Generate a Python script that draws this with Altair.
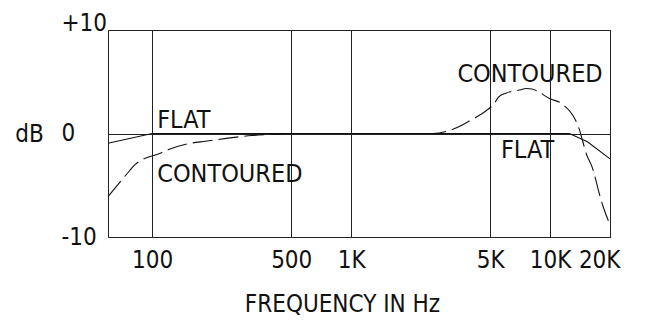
import altair as alt
import pandas as pd

# ---- data ----
flat_freq = [60, 100, 1000, 10000, 12500, 15400, 20000]
flat_db = [-0.95, 0.0, 0.0, 0.0, 0.0, -0.8, -2.45]

cont_freq = [60, 77, 82, 110, 121, 155, 185, 316, 450, 500, 1000, 2570,
             3600, 4000, 4770, 5240, 5490, 6000, 7000, 7600, 8100, 10000,
             11500, 13900, 15300, 16300, 17900, 18500, 20000]
cont_db = [-6.1, -3.6, -3.0, -1.9, -1.55, -0.95, -0.75, -0.2, -0.05, 0.0, 0.0, 0.0,
           0.8, 1.3, 2.2, 2.9, 3.5, 3.9, 4.2, 4.35, 4.3, 3.35,
           2.85, 0.6, -2.1, -3.3, -6.2, -7.1, -8.8]

x_ticks = [100, 500, 1000, 5000, 10000, 20000]
x_tick_labels = ["100", "500", "1K", "5K", "10K", "20K"]
y_ticks = [-10, 0, 10]

ann_text = ["FLAT", "CONTOURED", "CONTOURED", "FLAT"]
ann_freq = [106, 106, 3420, 5660]
ann_db = [0.5, -4.66, 5.0, -2.4]

FONT = "DejaVu Sans Condensed"

flat_df = pd.DataFrame({"freq": flat_freq, "db": flat_db})
cont_df = pd.DataFrame({"freq": cont_freq, "db": cont_db})
ann_df = pd.DataFrame({"label": ann_text, "freq": ann_freq, "db": ann_db})

label_expr = "".join(
    f"datum.value == {v} ? '{t}' : " for v, t in zip(x_ticks, x_tick_labels)
) + "''"

x_enc = alt.X(
    "freq:Q",
    scale=alt.Scale(type="log", domain=[60, 20000], nice=False),
    axis=alt.Axis(
        values=x_ticks,
        labelExpr=label_expr,
        grid=True,
        gridColor="#222222",
        gridWidth=1,
        ticks=False,
        tickSize=0,
        domain=False,
        labelFont=FONT,
        labelFontSize=24,
        labelColor="#111111",
        labelPadding=11,
        labelOverlap=False,
        labelOffset={"condition": {"test": "datum.value == 20000", "value": 10}, "value": 0},
        title="FREQUENCY IN Hz",
        titleFont=FONT,
        titleFontSize=24,
        titleFontWeight="normal",
        titleColor="#111111",
        titleX=234,
        titleY=74,
        titleAlign="center",
        titleBaseline="alphabetic",
    ),
)

y_enc = alt.Y(
    "db:Q",
    scale=alt.Scale(domain=[-10, 10], nice=False, zero=False),
    axis=alt.Axis(
        values=y_ticks,
        labelExpr="datum.value > 0 ? '+' + datum.value : '' + datum.value",
        grid=True,
        gridColor="#222222",
        gridWidth=1,
        ticks=False,
        tickSize=0,
        domain=False,
        labelFont=FONT,
        labelFontSize=24,
        labelColor="#111111",
        labelAlign="left",
        labelPadding=47,
        labelOffset={"condition": {"test": "datum.value == 10", "value": -7}, "value": 0},
        title="dB",
        titleFont=FONT,
        titleFontSize=24,
        titleFontWeight="normal",
        titleColor="#111111",
        titleAngle=0,
        titleX=-79,
        titleY=104,
        titleAlign="center",
        titleBaseline="middle",
    ),
)

flat_line = alt.Chart(flat_df).mark_line(color="#111111", strokeWidth=1.1).encode(
    x=x_enc, y=y_enc
)
cont_line = alt.Chart(cont_df).mark_line(
    color="#111111", strokeWidth=1.1, strokeDash=[20, 6], interpolate="monotone"
).encode(x=x_enc, y=y_enc)
labels = alt.Chart(ann_df).mark_text(
    align="left", baseline="alphabetic", font=FONT, fontSize=25, color="#111111"
).encode(x=x_enc, y=y_enc, text="label:N")

chart = (
    alt.layer(flat_line, cont_line, labels)
    .properties(
        width=502,
        height=207,
        autosize=alt.AutoSizeParams(type="none"),
        padding={"left": 100, "top": 22, "right": 34, "bottom": 79},
        background="white",
    )
    .configure_view(stroke="#222222", strokeWidth=1)
)

chart.save("out.html", embed_options={"renderer": "svg", "actions": False})
